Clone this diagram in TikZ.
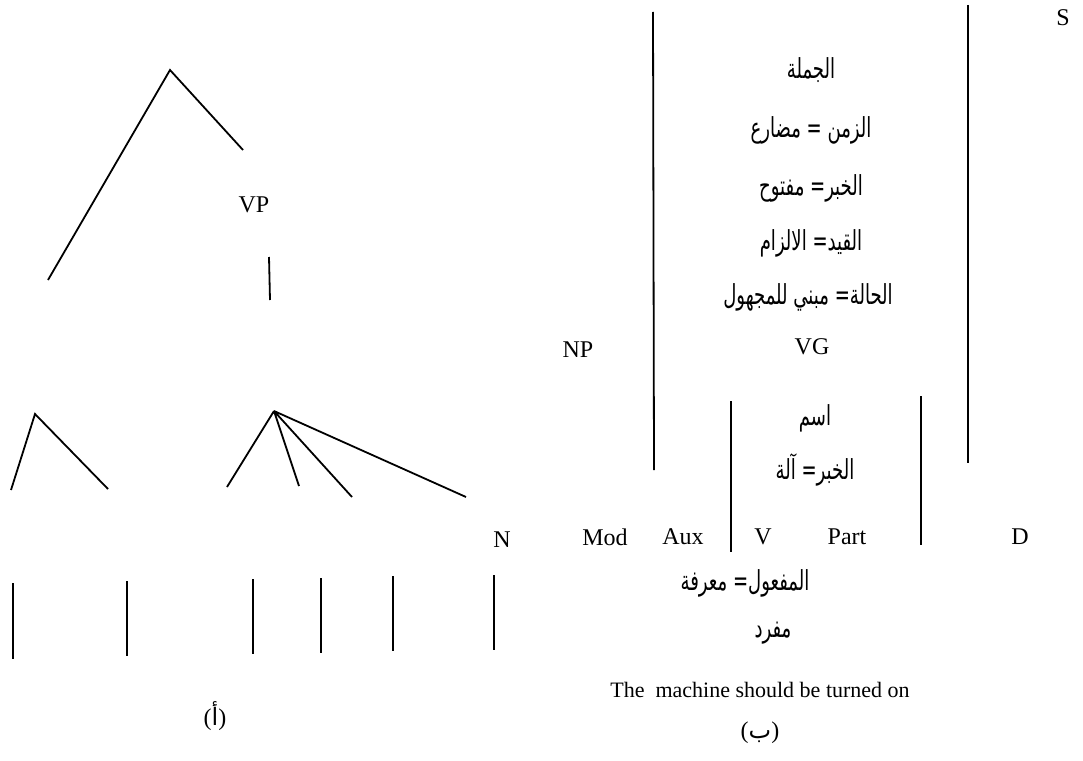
\documentclass[tikz,border=0pt]{standalone}
\usepackage{graphicx}
\usepackage{fontspec}
\setmainfont{Liberation Serif}
\newfontfamily\arabicfont[Script=Arabic]{DejaVu Sans}
\TeXXeTstate=1
\newcommand{\artxt}[1]{\scalebox{0.95}[1.45]{\arabicfont\beginR #1\endR}}
\begin{document}
\begin{tikzpicture}[x=1pt,y=-1pt,
  branch/.style={line width=1.8pt,black},
  lat/.style={inner sep=0pt,font=\fontsize{24}{28}\selectfont},
  sent/.style={inner sep=0pt,font=\fontsize{22}{26}\selectfont},
  ar/.style={inner sep=0pt,font=\fontsize{19}{24}\selectfont}]
\useasboundingbox (0,0) rectangle (1083,760);
% ---------- left tree (a) ----------
\coordinate (t0) at (170,70);
\coordinate (t0l) at (48,280);
\coordinate (t0r) at (243,150);
\draw[branch] (t0l) -- (t0) -- (t0r);
\node[lat] (vp) at (254,205) {VP};
\coordinate (vpa) at (269,257); \coordinate (vpb) at (270,300);
\draw[branch] (vpa) -- (vpb);
\coordinate (t1) at (35,414);
\coordinate (t1l) at (11,490);
\coordinate (t1r) at (108,489);
\draw[branch] (t1l) -- (t1) -- (t1r);
\coordinate (t2) at (274,411);
\coordinate (t2a) at (227,487);
\coordinate (t2b) at (299,486);
\coordinate (t2c) at (352,497);
\coordinate (t2d) at (466,497);
\draw[branch] (t2) -- (t2a) (t2) -- (t2b) (t2) -- (t2c) (t2) -- (t2d);
\node[lat] (n) at (502,540) {N};
\foreach \x/\a/\b [count=\i] in {13/583/659,127/581/656,253/579/654,321/578/653,393/576/651,494/575/650}{
  \coordinate (ba\i) at (\x,\a); \coordinate (bb\i) at (\x,\b);
  \draw[branch] (ba\i) -- (bb\i);
}
\node[lat] (capa) at (215,716) {({\arabicfont أ})};
% ---------- right structure (b) ----------
\node[lat] (s) at (1063,18) {S};
\coordinate (l1a) at (653,12); \coordinate (l1b) at (654,470);
\coordinate (r1a) at (968,5); \coordinate (r1b) at (968,463);
\draw[branch] (l1a) -- (l1b);
\draw[branch] (r1a) -- (r1b);
\node[ar] (a1) at (811,70) {\artxt{الجملة}};
\node[ar] (a2) at (811,130) {\artxt{الزمن = مضارع}};
\node[ar] (a3) at (811,188) {\artxt{الخبر= مفتوح}};
\node[ar] (a4) at (811,243) {\artxt{القيد= الالزام}};
\node[ar] (a5) at (808,297) {\artxt{الحالة= مبني للمجهول}};
\node[lat] (vg) at (812,347) {VG};
\node[lat] (np) at (578,350) {NP};
\coordinate (l2a) at (731,401); \coordinate (l2b) at (731,552);
\coordinate (r2a) at (921,396); \coordinate (r2b) at (921,545);
\draw[branch] (l2a) -- (l2b);
\draw[branch] (r2a) -- (r2b);
\node[ar] (a6) at (815,418) {\artxt{اسم}};
\node[ar] (a7) at (815,470) {\artxt{الخبر= آلة}};
\node[lat] (mod) at (605,537) {Mod};
\node[lat] (aux) at (683,537) {Aux};
\node[lat] (v) at (763,537) {V};
\node[lat] (part) at (847,537) {Part};
\node[lat] (d) at (1020,537) {D};
\node[ar] (a8) at (745,583) {\artxt{المفعول= معرفة}};
\node[ar] (a9) at (773,633) {\artxt{مفرد}};
\node[sent] (sentence) at (760,690) {The\ \ machine should be turned on};
\node[lat] (capb) at (760,733) {({\arabicfont ب})};
\end{tikzpicture}
\end{document}
